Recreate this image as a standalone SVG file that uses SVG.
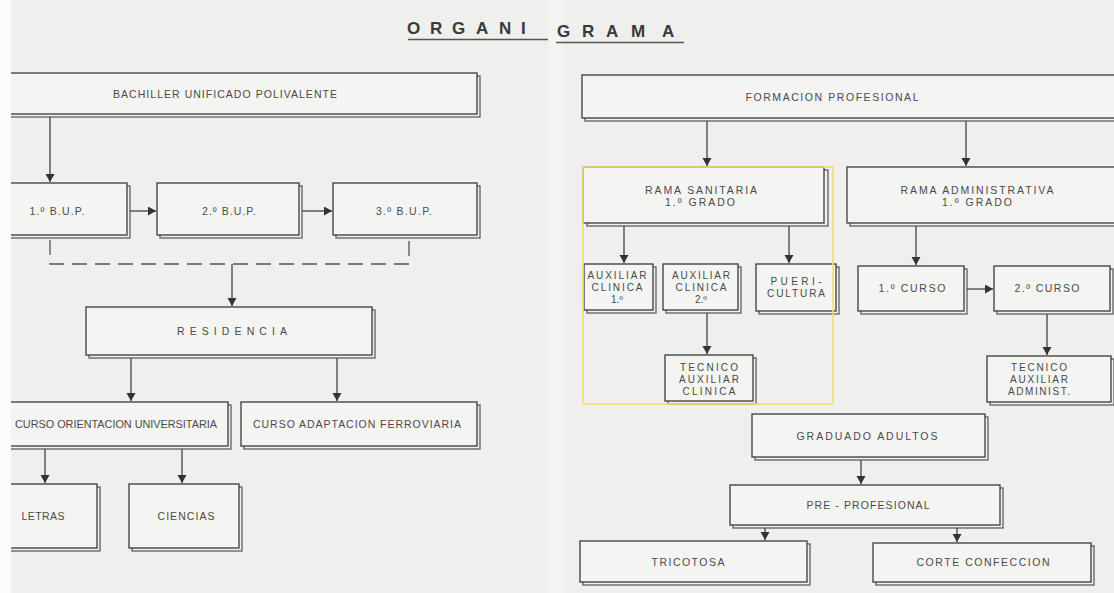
<svg xmlns="http://www.w3.org/2000/svg" width="1114" height="593" viewBox="0 0 1114 593">
<defs>
<style>
.bg{fill:#efefed}
.box{fill:#f4f4f2;stroke:#3a3a3a;stroke-width:1.3}
.sh{fill:none;stroke:#6a6a6a;stroke-width:1.4}
.t{font-family:"Liberation Sans",Arial,sans-serif;font-size:10.5px;fill:#4a4a4a;text-anchor:middle}
.s{font-size:10px}
.ln{fill:none;stroke:#444;stroke-width:1.3}
.dash{fill:none;stroke:#555;stroke-width:1.3;stroke-dasharray:15 8}
.title{font-family:"Liberation Sans",Arial,sans-serif;font-size:17px;font-weight:bold;fill:#3a3a3a}
</style>
<marker id="ah" markerUnits="userSpaceOnUse" markerWidth="10" markerHeight="10" refX="8" refY="4.5" orient="auto">
<path d="M0,0 L8,4.5 L0,9 z" fill="#333"/>
</marker>
<clipPath id="lp"><rect x="11" y="0" width="544" height="593"/></clipPath>
</defs>
<rect x="0" y="0" width="1114" height="593" class="bg"/>
<rect x="0" y="0" width="11" height="593" fill="#fbfbfb"/>
<rect x="549" y="0" width="14" height="593" fill="#f4f4f3"/>

<g id="title">
<text class="title"><tspan x="407 430 452 476 499 521" y="34">ORGANI</tspan><tspan x="557 582 606 631 662" y="37">GRAMA</tspan></text>
<line x1="408" y1="39.5" x2="548" y2="39.5" stroke="#555" stroke-width="1.5"/>
<line x1="556" y1="42.5" x2="684" y2="42.5" stroke="#555" stroke-width="1.5"/>
</g>

<g clip-path="url(#lp)">
<g id="bup">
<rect class="sh" x="-17" y="76" width="497" height="41"/>
<rect class="box" x="-20" y="73" width="497" height="41"/>
<text class="t" x="225" y="97.5" textLength="224" lengthAdjust="spacing">BACHILLER UNIFICADO POLIVALENTE</text>
</g>
<g id="bup1">
<rect class="sh" x="-17" y="186" width="147" height="52"/>
<rect class="box" x="-20" y="183" width="147" height="52"/>
<text class="t" x="57" y="214.5" textLength="55" lengthAdjust="spacing">1.º B.U.P.</text>
</g>
<g id="bup2">
<rect class="sh" x="160" y="186" width="142" height="52"/>
<rect class="box" x="157" y="183" width="142" height="52"/>
<text class="t" x="229" y="214.5" textLength="54" lengthAdjust="spacing">2.º B.U.P.</text>
</g>
<g id="bup3">
<rect class="sh" x="336" y="186" width="144" height="52"/>
<rect class="box" x="333" y="183" width="144" height="52"/>
<text class="t" x="404" y="214.5" textLength="56" lengthAdjust="spacing">3.º B.U.P.</text>
</g>
<g id="residencia">
<rect class="sh" x="89" y="310" width="286" height="48"/>
<rect class="box" x="86" y="307" width="286" height="48"/>
<text class="t" x="232" y="334.5" textLength="110" lengthAdjust="spacing">RESIDENCIA</text>
</g>
<g id="cou">
<rect class="sh" x="-17" y="405" width="248" height="44"/>
<rect class="box" x="-20" y="402" width="248" height="44"/>
<text class="t" x="116" y="427.5" textLength="202" lengthAdjust="spacingAndGlyphs">CURSO ORIENTACION UNIVERSITARIA</text>
</g>
<g id="caf">
<rect class="sh" x="244" y="405" width="236" height="44"/>
<rect class="box" x="241" y="402" width="236" height="44"/>
<text class="t" x="357" y="427.5" textLength="208" lengthAdjust="spacing">CURSO ADAPTACION FERROVIARIA</text>
</g>
<g id="letras">
<rect class="sh" x="-17" y="487" width="117" height="64"/>
<rect class="box" x="-20" y="484" width="117" height="64"/>
<text class="t" x="43" y="519.5" textLength="43" lengthAdjust="spacing">LETRAS</text>
</g>
<g id="ciencias">
<rect class="sh" x="132" y="487" width="110" height="64"/>
<rect class="box" x="129" y="484" width="110" height="64"/>
<text class="t" x="186" y="519.5" textLength="57" lengthAdjust="spacing">CIENCIAS</text>
</g>
</g>

<g id="fp">
<rect class="sh" x="585" y="78" width="560" height="43"/>
<rect class="box" x="582" y="75" width="560" height="43"/>
<text class="t" x="832" y="100.5" textLength="173" lengthAdjust="spacing">FORMACION PROFESIONAL</text>
</g>
<g id="rama-sanitaria">
<rect class="sh" x="587" y="170" width="241" height="56"/>
<rect class="box" x="583" y="167" width="241" height="56"/>
<text class="t" x="701" y="193.5" textLength="112" lengthAdjust="spacing">RAMA SANITARIA</text>
<text class="t" x="700" y="205.5" textLength="70" lengthAdjust="spacing">1.º GRADO</text>
</g>
<g id="rama-admin">
<rect class="sh" x="850" y="170" width="300" height="56"/>
<rect class="box" x="847" y="167" width="300" height="56"/>
<text class="t" x="977" y="193.5" textLength="153" lengthAdjust="spacing">RAMA ADMINISTRATIVA</text>
<text class="t" x="977" y="205.5" textLength="70" lengthAdjust="spacing">1.º GRADO</text>
</g>
<g id="aux1">
<rect class="sh" x="587" y="267" width="69" height="46"/>
<rect class="box" x="584" y="264" width="69" height="46"/>
<text class="t s" x="617" y="278.5" textLength="59" lengthAdjust="spacing">AUXILIAR</text>
<text class="t s" x="617" y="290.5" textLength="51" lengthAdjust="spacing">CLINICA</text>
<text class="t s" x="617" y="303">1.º</text>
</g>
<g id="aux2">
<rect class="sh" x="666" y="267" width="75" height="46"/>
<rect class="box" x="663" y="264" width="75" height="46"/>
<text class="t s" x="701" y="278.5" textLength="58" lengthAdjust="spacing">AUXILIAR</text>
<text class="t s" x="701" y="290.5" textLength="51" lengthAdjust="spacing">CLINICA</text>
<text class="t s" x="701" y="303">2.º</text>
</g>
<g id="puericultura">
<rect class="sh" x="759" y="267" width="80" height="47"/>
<rect class="box" x="756" y="264" width="80" height="47"/>
<text class="t s" x="796" y="284.5" textLength="51" lengthAdjust="spacing">PUERI-</text>
<text class="t s" x="796" y="296.5" textLength="58" lengthAdjust="spacing">CULTURA</text>
</g>
<g id="tec-aux-clin">
<rect class="sh" x="668" y="358" width="88" height="46"/>
<rect class="box" x="665" y="355" width="88" height="46"/>
<text class="t s" x="709" y="370.5" textLength="58" lengthAdjust="spacing">TECNICO</text>
<text class="t s" x="709" y="382.5" textLength="60" lengthAdjust="spacing">AUXILIAR</text>
<text class="t s" x="709" y="394.5" textLength="53" lengthAdjust="spacing">CLINICA</text>
</g>
<g id="curso1">
<rect class="sh" x="861" y="269" width="106" height="45"/>
<rect class="box" x="858" y="266" width="106" height="45"/>
<text class="t" x="912" y="291.5" textLength="67" lengthAdjust="spacing">1.º CURSO</text>
</g>
<g id="curso2">
<rect class="sh" x="997" y="269" width="116" height="45"/>
<rect class="box" x="994" y="266" width="116" height="45"/>
<text class="t" x="1047" y="291.5" textLength="65" lengthAdjust="spacing">2.º CURSO</text>
</g>
<g id="tec-aux-admin">
<rect class="sh" x="990" y="359" width="124" height="46"/>
<rect class="box" x="987" y="356" width="124" height="46"/>
<text class="t s" x="1039" y="370.5" textLength="56" lengthAdjust="spacing">TECNICO</text>
<text class="t s" x="1039" y="382.5" textLength="58" lengthAdjust="spacing">AUXILIAR</text>
<text class="t s" x="1039" y="394.5" textLength="62" lengthAdjust="spacing">ADMINIST.</text>
</g>
<g id="graduado">
<rect class="sh" x="755" y="417" width="233" height="43"/>
<rect class="box" x="752" y="414" width="233" height="43"/>
<text class="t" x="867" y="439.5" textLength="141" lengthAdjust="spacing">GRADUADO ADULTOS</text>
</g>
<g id="pre-profesional">
<rect class="sh" x="733" y="488" width="270" height="40"/>
<rect class="box" x="730" y="485" width="270" height="40"/>
<text class="t" x="868" y="508.5" textLength="123" lengthAdjust="spacing">PRE - PROFESIONAL</text>
</g>
<g id="tricotosa">
<rect class="sh" x="583" y="544" width="227" height="41"/>
<rect class="box" x="580" y="541" width="227" height="41"/>
<text class="t" x="688" y="565.5" textLength="73" lengthAdjust="spacing">TRICOTOSA</text>
</g>
<g id="corte">
<rect class="sh" x="876" y="546" width="218" height="39"/>
<rect class="box" x="873" y="543" width="218" height="39"/>
<text class="t" x="983" y="565.5" textLength="133" lengthAdjust="spacing">CORTE CONFECCION</text>
</g>

<rect id="highlight" x="583" y="167" width="250" height="237" fill="none" stroke="#efe070" stroke-width="1.6"/>

<g id="connectors">
<path class="ln" d="M50,117 V182" marker-end="url(#ah)"/>
<path class="ln" d="M130,211 H156" marker-end="url(#ah)"/>
<path class="ln" d="M302,211 H332" marker-end="url(#ah)"/>
<path class="dash" d="M50,240 V264 H409 V240"/>
<path class="ln" d="M232,264 V306" marker-end="url(#ah)"/>
<path class="ln" d="M131,358 V401" marker-end="url(#ah)"/>
<path class="ln" d="M337,358 V401" marker-end="url(#ah)"/>
<path class="ln" d="M45,449 V483" marker-end="url(#ah)"/>
<path class="ln" d="M182,449 V483" marker-end="url(#ah)"/>
<path class="ln" d="M707,121 V166" marker-end="url(#ah)"/>
<path class="ln" d="M966,121 V166" marker-end="url(#ah)"/>
<path class="ln" d="M624,226 V263" marker-end="url(#ah)"/>
<path class="ln" d="M789,226 V263" marker-end="url(#ah)"/>
<path class="ln" d="M916,226 V265" marker-end="url(#ah)"/>
<path class="ln" d="M707,313 V354" marker-end="url(#ah)"/>
<path class="ln" d="M967,289 H993" marker-end="url(#ah)"/>
<path class="ln" d="M1047,314 V355" marker-end="url(#ah)"/>
<path class="ln" d="M861,460 V484" marker-end="url(#ah)"/>
<path class="ln" d="M765,528 V540" marker-end="url(#ah)"/>
<path class="ln" d="M957,528 V542" marker-end="url(#ah)"/>
</g>
</svg>
